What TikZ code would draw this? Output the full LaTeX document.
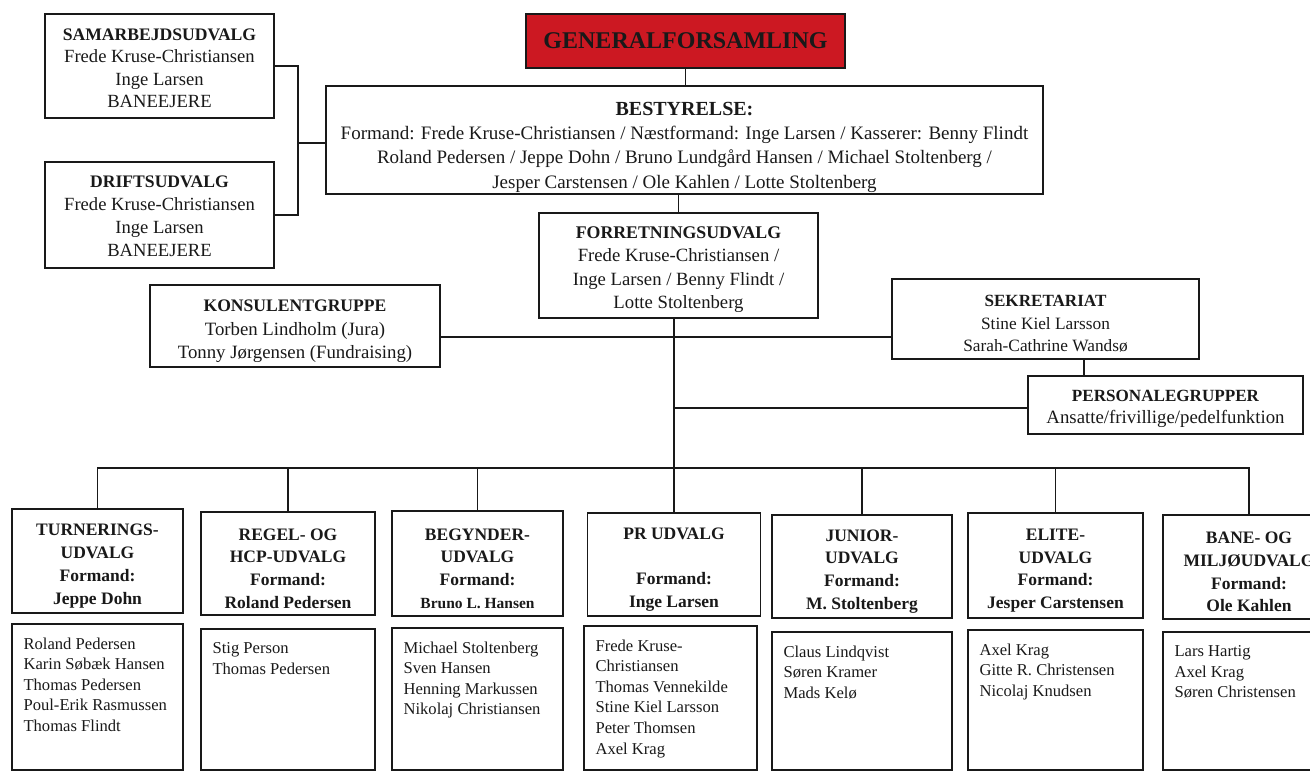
\documentclass[tikz,border=0pt]{standalone}
\usepackage{fontspec}
\setmainfont{Liberation Serif}
\definecolor{genred}{RGB}{204,24,34}
\definecolor{ink}{RGB}{25,25,25}
\tikzset{
  box/.style={draw=ink, line width=1.3pt, inner sep=0pt, align=center, text=ink},
  conn/.style={draw=ink, line width=1.3pt},
  smallbox/.style={box, font=\fontsize{18.6}{22.5}\selectfont},
  bigbox/.style={box, font=\fontsize{19}{24.3}\selectfont},
  headbox/.style={box, font=\fontsize{17.5}{22.8}\selectfont\bfseries},
  membox/.style={box},
  memtext/.style={anchor=north west, inner sep=0pt, align=left, text=ink, font=\fontsize{16.6}{20.6}\selectfont}
}
\newcommand{\bt}[1]{{\fontsize{17.6}{22}\selectfont\bfseries #1}}
\newcommand{\drop}[1]{\rule{0pt}{#1}}
\begin{document}
\begin{tikzpicture}[x=1pt,y=-1pt]
\useasboundingbox (0,0) rectangle (1310,772);
\clip (0,0) rectangle (1310,772);

% top
\node[box, fill=genred, minimum width=319, minimum height=54, font=\fontsize{24}{26}\selectfont\bfseries] (gen) at (685.5,41) {GENERALFORSAMLING};
\node[bigbox, minimum width=717, minimum height=108] (best) at (684.5,140)
  {\drop{27.2pt}{\fontsize{20}{26}\selectfont\bfseries BESTYRELSE:}\\
   Formand: Frede Kruse-Christiansen / Næstformand: Inge Larsen / Kasserer: Benny Flindt\\
   Roland Pedersen / Jeppe Dohn / Bruno Lundgård Hansen / Michael Stoltenberg /\\
   Jesper Carstensen / Ole Kahlen / Lotte Stoltenberg};
\node[smallbox, minimum width=229, minimum height=104] (sam) at (159.5,66)
  {\drop{16.6pt}\bt{SAMARBEJDSUDVALG}\\Frede Kruse-Christiansen\\Inge Larsen\\BANEEJERE};
\node[smallbox, font=\fontsize{18.6}{23}\selectfont, minimum width=229, minimum height=106] (drift) at (159.5,215)
  {\drop{14.6pt}\bt{DRIFTSUDVALG}\\Frede Kruse-Christiansen\\Inge Larsen\\BANEEJERE};
\node[box, font=\fontsize{18.7}{23.3}\selectfont, minimum width=279, minimum height=105] (forr) at (678.5,265.5)
  {\drop{19.8pt}{\fontsize{17.8}{23}\selectfont\bfseries FORRETNINGSUDVALG}\\Frede Kruse-Christiansen /\\Inge Larsen / Benny Flindt /\\Lotte Stoltenberg};
\node[smallbox, font=\fontsize{18.8}{23.5}\selectfont, minimum width=290, minimum height=82] (kons) at (295,326)
  {\drop{22.6pt}\bt{KONSULENTGRUPPE}\\Torben Lindholm (Jura)\\Tonny Jørgensen (Fundraising)};
\node[smallbox, font=\fontsize{17.3}{22.5}\selectfont, minimum width=307, minimum height=80] (sek) at (1045.5,319)
  {\drop{21.3pt}{\fontsize{17.1}{22}\selectfont\bfseries SEKRETARIAT}\\Stine Kiel Larsson\\Sarah-Cathrine Wandsø};
\node[smallbox, font=\fontsize{18.8}{22}\selectfont, minimum width=275, minimum height=58] (pers) at (1165.5,405)
  {\drop{19.3pt}{\fontsize{17.1}{22}\selectfont\bfseries PERSONALEGRUPPER}\\Ansatte/frivillige/pedelfunktion};

% bottom headers
\node[headbox, minimum width=171, minimum height=104] (t1) at (97.5,561)
  {\drop{21.6pt}TURNERINGS-\\UDVALG\\Formand:\\Jeppe Dohn};
\node[headbox, minimum width=174, minimum height=103] (t2) at (288,563.5)
  {\drop{21.6pt}REGEL- OG\\HCP-UDVALG\\Formand:\\Roland Pedersen};
\node[headbox, minimum width=171, minimum height=105] (t3) at (477.5,563.5)
  {\drop{21.6pt}BEGYNDER-\\UDVALG\\Formand:\\{\fontsize{15.5}{22.8}\selectfont Bruno L. Hansen}};
\node[headbox, minimum width=173, minimum height=103] (t4) at (674,564.5)
  {\drop{21.6pt}PR UDVALG\\[22.8pt]Formand:\\Inge Larsen};
\node[headbox, minimum width=180, minimum height=103] (t5) at (862,566.5)
  {\drop{21.6pt}JUNIOR-\\UDVALG\\Formand:\\M. Stoltenberg};
\node[headbox, minimum width=175, minimum height=105] (t6) at (1055.5,565.5)
  {\drop{21.6pt}ELITE-\\UDVALG\\Formand:\\Jesper Carstensen};
\node[headbox, minimum width=172, minimum height=104] (t7) at (1249,567)
  {\drop{21.6pt}BANE- OG\\MILJØUDVALG\\Formand:\\Ole Kahlen};

% member boxes
\node[membox, minimum width=171, minimum height=146] (m1) at (97.5,697) {};
\node[membox, minimum width=174, minimum height=141] (m2) at (288,699.5) {};
\node[membox, minimum width=171, minimum height=142] (m3) at (477.5,699) {};
\node[membox, minimum width=173, minimum height=144] (m4) at (670.5,698) {};
\node[membox, minimum width=180, minimum height=138] (m5) at (862,701) {};
\node[membox, minimum width=175, minimum height=140] (m6) at (1055.5,700) {};
\node[membox, minimum width=172, minimum height=138] (m7) at (1249,701) {};

\node[memtext] (m1t) at ([xshift=12pt,yshift=-14pt]m1.north west)
  {Roland Pedersen\\Karin Søbæk Hansen\\Thomas Pedersen\\Poul-Erik Rasmussen\\Thomas Flindt};
\node[memtext] (m2t) at ([xshift=12pt,yshift=-14pt]m2.north west)
  {Stig Person\\Thomas Pedersen};
\node[memtext] (m3t) at ([xshift=12pt,yshift=-14pt]m3.north west)
  {Michael Stoltenberg\\Sven Hansen\\Henning Markussen\\Nikolaj Christiansen};
\node[memtext] (m4t) at ([xshift=12pt,yshift=-14pt]m4.north west)
  {Frede Kruse-\\Christiansen\\Thomas Vennekilde\\Stine Kiel Larsson\\Peter Thomsen\\Axel Krag};
\node[memtext] (m5t) at ([xshift=12pt,yshift=-14pt]m5.north west)
  {Claus Lindqvist\\Søren Kramer\\Mads Kelø};
\node[memtext] (m6t) at ([xshift=12pt,yshift=-14pt]m6.north west)
  {Axel Krag\\Gitte R. Christensen\\Nicolaj Knudsen};
\node[memtext] (m7t) at ([xshift=12pt,yshift=-14pt]m7.north west)
  {Lars Hartig\\Axel Krag\\Søren Christensen};

% connectors
\coordinate (brk) at (298,143);
\coordinate (trunk) at (674,337);
\coordinate (j2) at (674,408);
\coordinate (bus) at (674,468);
\coordinate (sp) at (1084,368);
\draw[conn] (gen.south) -- (gen.south |- best.north);
\draw[conn] (best.south -| forr.north) -- (forr.north);
\draw[conn] (sam.east) -| (brk);
\draw[conn] (drift.east) -| (brk);
\draw[conn] (brk) -- (best.west |- brk);
\draw[conn] (forr.south -| t4.north) -- (t4.north);
\draw[conn] (kons.east |- trunk) -- (sek.west |- trunk);
\draw[conn] (j2) -- (pers.west |- j2);
\draw[conn] (sek.south -| sp) -- (pers.north -| sp);
\draw[conn] (t1.north) |- (bus);
\draw[conn] (t2.north) |- (bus);
\draw[conn] (t3.north) |- (bus);
\draw[conn] (t5.north) |- (bus);
\draw[conn] (t6.north) |- (bus);
\draw[conn] (t7.north) |- (bus);
\end{tikzpicture}
\end{document}
